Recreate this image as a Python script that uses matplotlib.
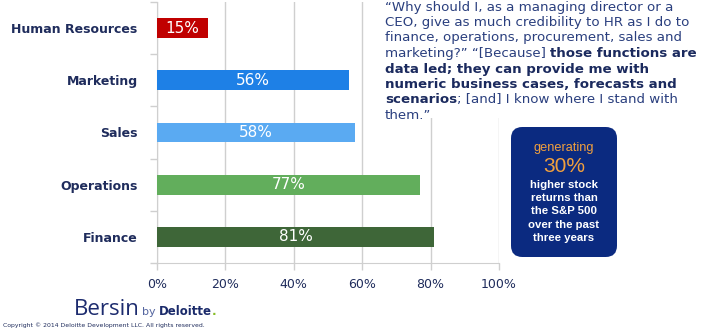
import matplotlib
matplotlib.use("Agg")
import matplotlib.pyplot as plt
from matplotlib.patches import FancyBboxPatch, Rectangle

# data
functions = ["Human Resources", "Marketing", "Sales", "Operations", "Finance"]
shares = [15, 56, 58, 77, 81]
bar_colors = ["#C00000", "#1E80E6", "#5AAAF2", "#62AE5C", "#3E6638"]
x_ticks = [0, 20, 40, 60, 80, 100]

quote_lines = [
    [("\u201cWhy should I, as a managing director or a", False)],
    [("CEO, give as much credibility to HR as I do to", False)],
    [("finance, operations, procurement, sales and", False)],
    [("marketing?\u201d \u201c[Because] ", False), ("those functions are", True)],
    [("data led; they can provide me with", True)],
    [("numeric business cases, forecasts and", True)],
    [("scenarios", True), ("; [and] I know where I stand with", False)],
    [("them.\u201d", False)],
]
box_lines = ["higher stock", "returns than", "the S&P 500", "over the past", "three years"]

navy = "#1F2C5C"
grid_c = "#CFCFCF"

fig = plt.figure(figsize=(7.06, 3.33), dpi=100)
ax = fig.add_axes([157 / 706, 1 - 263 / 333, 342 / 706, 261 / 333])

y = list(range(len(functions)))
ax.barh(y, shares, height=0.38, color=bar_colors, zorder=3)
for yi, v in zip(y, shares):
    ax.text(v / 2, yi, f"{v}%", color="white", fontsize=11,
            ha="center", va="center", zorder=4)

ax.set_xlim(0, 100)
ax.set_ylim(4.5, -0.5)
ax.set_xticks(x_ticks)
ax.set_xticklabels([f"{t}%" for t in x_ticks], color=navy, fontsize=9)
ax.set_yticks(y)
ax.set_yticklabels(functions, color=navy, fontsize=9, fontweight="bold")
ax.set_yticks([i - 0.5 for i in range(len(functions) + 1)], minor=True)
ax.tick_params(axis="y", which="major", length=0, pad=14)
ax.tick_params(axis="y", which="minor", length=5, color=grid_c, width=1)
ax.tick_params(axis="x", length=5, color=grid_c, width=1, pad=6)
ax.grid(axis="x", color=grid_c, lw=1, zorder=0)
for s in ["top", "right"]:
    ax.spines[s].set_visible(False)
for s in ["left", "bottom"]:
    ax.spines[s].set_color(grid_c)

# white area behind the quote
fig.patches.append(Rectangle((368 / 706, 1 - 118 / 333), 1, 1, transform=fig.transFigure,
                             facecolor="white", edgecolor="none", zorder=5))

fig.canvas.draw()
renderer = fig.canvas.get_renderer()
x0 = 385 / 706
for i, line in enumerate(quote_lines):
    base = 1 - (10.5 + 15.5 * i) / 333
    xp = x0
    for txt, bold in line:
        t = fig.text(xp, base, txt, fontsize=9.6, va="baseline", ha="left",
                     color="#1B2A5E" if bold else "#2A3F7E",
                     fontweight="bold" if bold else "normal", zorder=6)
        bb = t.get_window_extent(renderer)
        xp += bb.width / fig.bbox.width

# blue callout box
bx, by_, bw, bh = 511 / 706, 1 - 257 / 333, 106 / 706, 130 / 333
fig.patches.append(FancyBboxPatch((bx, by_), bw, bh, boxstyle="round,pad=0,rounding_size=0.016",
                                  transform=fig.transFigure, facecolor="#0B2A80",
                                  edgecolor="none", zorder=5, mutation_aspect=706 / 333))
cx = bx + bw / 2
fig.text(cx, 1 - 148 / 333, "generating", color="#F2A03D", fontsize=9.2,
         family="Liberation Sans", ha="center", va="center", zorder=6)
fig.text(cx, 1 - 166 / 333, "30%", color="#F2A03D", fontsize=15,
         family="Liberation Sans", ha="center", va="center", zorder=6)
for i, s in enumerate(box_lines):
    fig.text(cx, 1 - (185 + 13.2 * i) / 333, s, color="white", fontsize=8.2,
             family="Liberation Sans", fontweight="bold", ha="center", va="center", zorder=6)

# logo and copyright
t = fig.text(74 / 706, 1 - 315 / 333, "Bersin", color="#1C2B6E", fontsize=16,
             family="Open Sans", va="baseline")
fig.canvas.draw()
xp = t.get_window_extent(renderer).x1 / fig.bbox.width + 2 / 706
t = fig.text(xp, 1 - 315 / 333, "by", color="#5566A0", fontsize=8, va="baseline")
xp = t.get_window_extent(renderer).x1 / fig.bbox.width + 3 / 706
t = fig.text(xp, 1 - 315 / 333, "Deloitte", color="#1A2A6A", fontsize=8.5,
             fontweight="bold", va="baseline")
xp = t.get_window_extent(renderer).x1 / fig.bbox.width
fig.text(xp, 1 - 315 / 333, ".", color="#86BC25", fontsize=8.5, fontweight="bold", va="baseline")
fig.text(3 / 706, 1 - 325 / 333, "Copyright \u00a9 2014 Deloitte Development LLC. All rights reserved.",
         color=navy, fontsize=4.4, va="center")

fig.savefig("out.png", dpi=100)
